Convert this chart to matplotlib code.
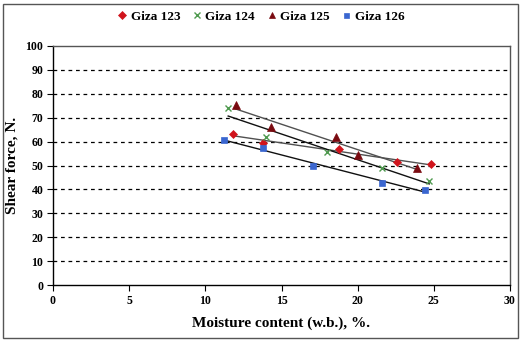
import numpy as np
import matplotlib
matplotlib.use("Agg")
import matplotlib.pyplot as plt
from matplotlib.patches import Rectangle

plt.rcParams["font.family"] = ["Liberation Serif", "DejaVu Serif"]
plt.rcParams["font.weight"] = "bold"

# moisture content (w.b.), % and shear force, N
x123 = [11.8, 13.8, 18.8, 22.6, 24.8]
y123 = [63.0, 59.5, 57.0, 51.5, 50.5]
x124 = [11.5, 14.0, 18.0, 21.6, 24.7]
y124 = [74.0, 62.0, 55.5, 49.0, 43.5]
x125 = [12.0, 14.3, 18.6, 20.0, 23.9]
y125 = [75.5, 66.0, 62.0, 54.5, 49.0]
x126 = [11.2, 13.8, 17.1, 21.6, 24.4]
y126 = [60.5, 57.5, 50.0, 42.8, 39.7]

series = [
    ("Giza 123", x123, y123, "D", "#d0141c", 4.5, "#505050"),
    ("Giza 124", x124, y124, "x", "#4f9a4f", 5, "#101010"),
    ("Giza 125", x125, y125, "^", "#7a0a10", 6, "#505050"),
    ("Giza 126", x126, y126, "s", "#3a66d0", 4.5, "#101010"),
]

fig = plt.figure(figsize=(5.22, 3.41), dpi=100)
ax = fig.add_axes([53 / 522, 1 - 285 / 341, 457 / 522, 239 / 341])

handles = []
for name, xs, ys, mk, col, ms, lc in series:
    xs = np.array(xs); ys = np.array(ys)
    k, b = np.polyfit(xs, ys, 1)
    xl = np.array([xs.min(), xs.max()])
    ax.plot(xl, k * xl + b, color=lc, lw=1.0, zorder=2)
    h, = ax.plot(xs, ys, ls="none", marker=mk, color=col, ms=ms,
                 mew=1.0 if mk == "x" else 0.5, zorder=3, label=name)
    handles.append(h)

ax.set_xlim(0, 30); ax.set_ylim(0, 100)
ax.set_xticks(range(0, 31, 5)); ax.set_yticks(range(0, 101, 10))
for yv in range(10, 100, 10):
    ax.axhline(yv, color="black", ls=(0, (3, 3)), lw=0.9, zorder=1)
ax.tick_params(direction="out", length=4, width=0.8, labelsize=8.5, pad=3)
for lab in ax.get_xticklabels() + ax.get_yticklabels():
    lab.set_fontweight("bold")
for s in ["left", "bottom"]:
    ax.spines[s].set_color("black"); ax.spines[s].set_linewidth(1.0)
for s in ["top", "right"]:
    ax.spines[s].set_color("#555555"); ax.spines[s].set_linewidth(1.0)

ax.set_xlabel("Moisture content (w.b.), %.", fontsize=11, fontweight="bold", labelpad=7)
ax.set_ylabel("Shear force, N.", fontsize=11, fontweight="bold")
ax.yaxis.set_label_coords(-0.075, 0.5)

fig.legend(handles=handles, loc="center", bbox_to_anchor=(0.5, 1 - 17 / 341), ncol=4,
           frameon=False, handlelength=0.7, handletextpad=0.3, markerscale=0.8,
           columnspacing=0.9, prop={"weight": "bold", "size": 9.5})

fig.patches.append(Rectangle((3 / 522, 3 / 341), 515 / 522, 334 / 341, transform=fig.transFigure,
                             fill=False, edgecolor="#555555", lw=1.0))

fig.savefig("out.png", dpi=100)
